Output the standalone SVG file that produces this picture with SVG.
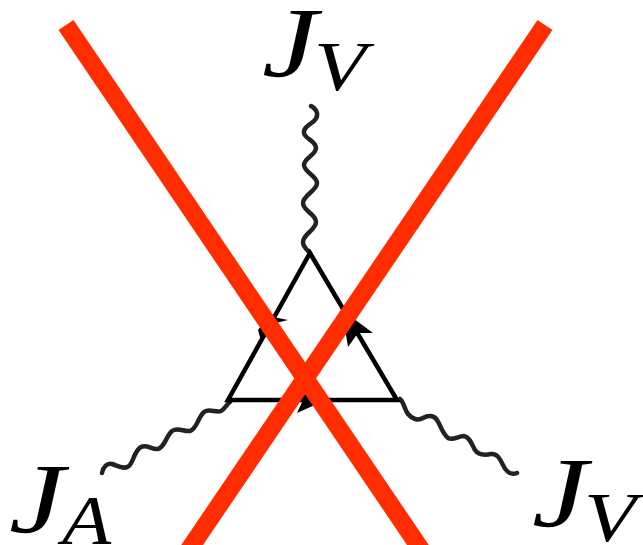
<svg xmlns="http://www.w3.org/2000/svg" width="643" height="545" viewBox="0 0 643 545">
<style>
.j{font-family:"Liberation Serif",serif;font-style:italic;fill:#000}
.big{font-size:100px}
.sub{font-size:70px}
.w{fill:none;stroke:#222;stroke-width:4.5;stroke-linecap:round;stroke-linejoin:round}
.t{fill:none;stroke:#000;stroke-width:4.5;stroke-linejoin:miter}
.x{stroke:#ff2d00;stroke-width:18;fill:none}
</style>
<rect width="643" height="545" fill="#fff"/>
<g id="connectors">
<path class="w" d="M311 106C318 110 319 116 314 121C309 125 303 128 304 133C305 139 316 141 316 148C316 155 304 158 304 165C304 172 317 176 317 183C317 191 303 195 303 203C303 211 316 214 316 222C316 230 303 234 303 242C303 247 307 250 310 253"/>
<path class="w" d="M102 473C103 467 107 463 112 464C118 466 124 470 129 466C134 461 134 451 141 447C147 444 152 450 158 449C165 447 166 436 172 431C178 427 184 432 190 431C197 429 198 417 204 412C209 408 216 413 221 411C225 409 226 405 230 402"/>
<path class="w" d="M400 399C404 402 404 409 408 414C412 419 418 421 423 418C428 415 434 415 437 420C441 426 442 433 448 438C453 441 458 436 464 436C470 437 472 445 475 450C479 456 486 455 491 454C497 453 500 459 503 465C505 470 510 476 517 473"/>
</g>
<g id="triangle">
<path class="t" d="M310 253L228 400H397Z"/>
<polygon points="373,333 358,333 348,347 342,310"/>
<polygon points="288,320 272,324 261,341 258,330 268,316"/>
<polygon points="297,413 303,400 296,388 326,400"/>
</g>
<g id="label-top">
<text class="j big" transform="translate(262 76) scale(1.25 1)">J</text>
<text class="j sub" transform="translate(314 90) scale(1.22 1)">V</text>
</g>
<g id="label-left">
<text class="j big" transform="translate(9 532) scale(1.25 1)">J</text>
<text class="j sub" transform="translate(62 544) scale(1.15 1)">A</text>
</g>
<g id="label-right">
<text class="j big" transform="translate(532 526) scale(1.25 1)">J</text>
<text class="j sub" transform="translate(584 541) scale(1.22 1)">V</text>
</g>
<g id="cross">
<path class="x" d="M66 25L424 554"/>
<path class="x" d="M545 25L186 554"/>
</g>
</svg>
